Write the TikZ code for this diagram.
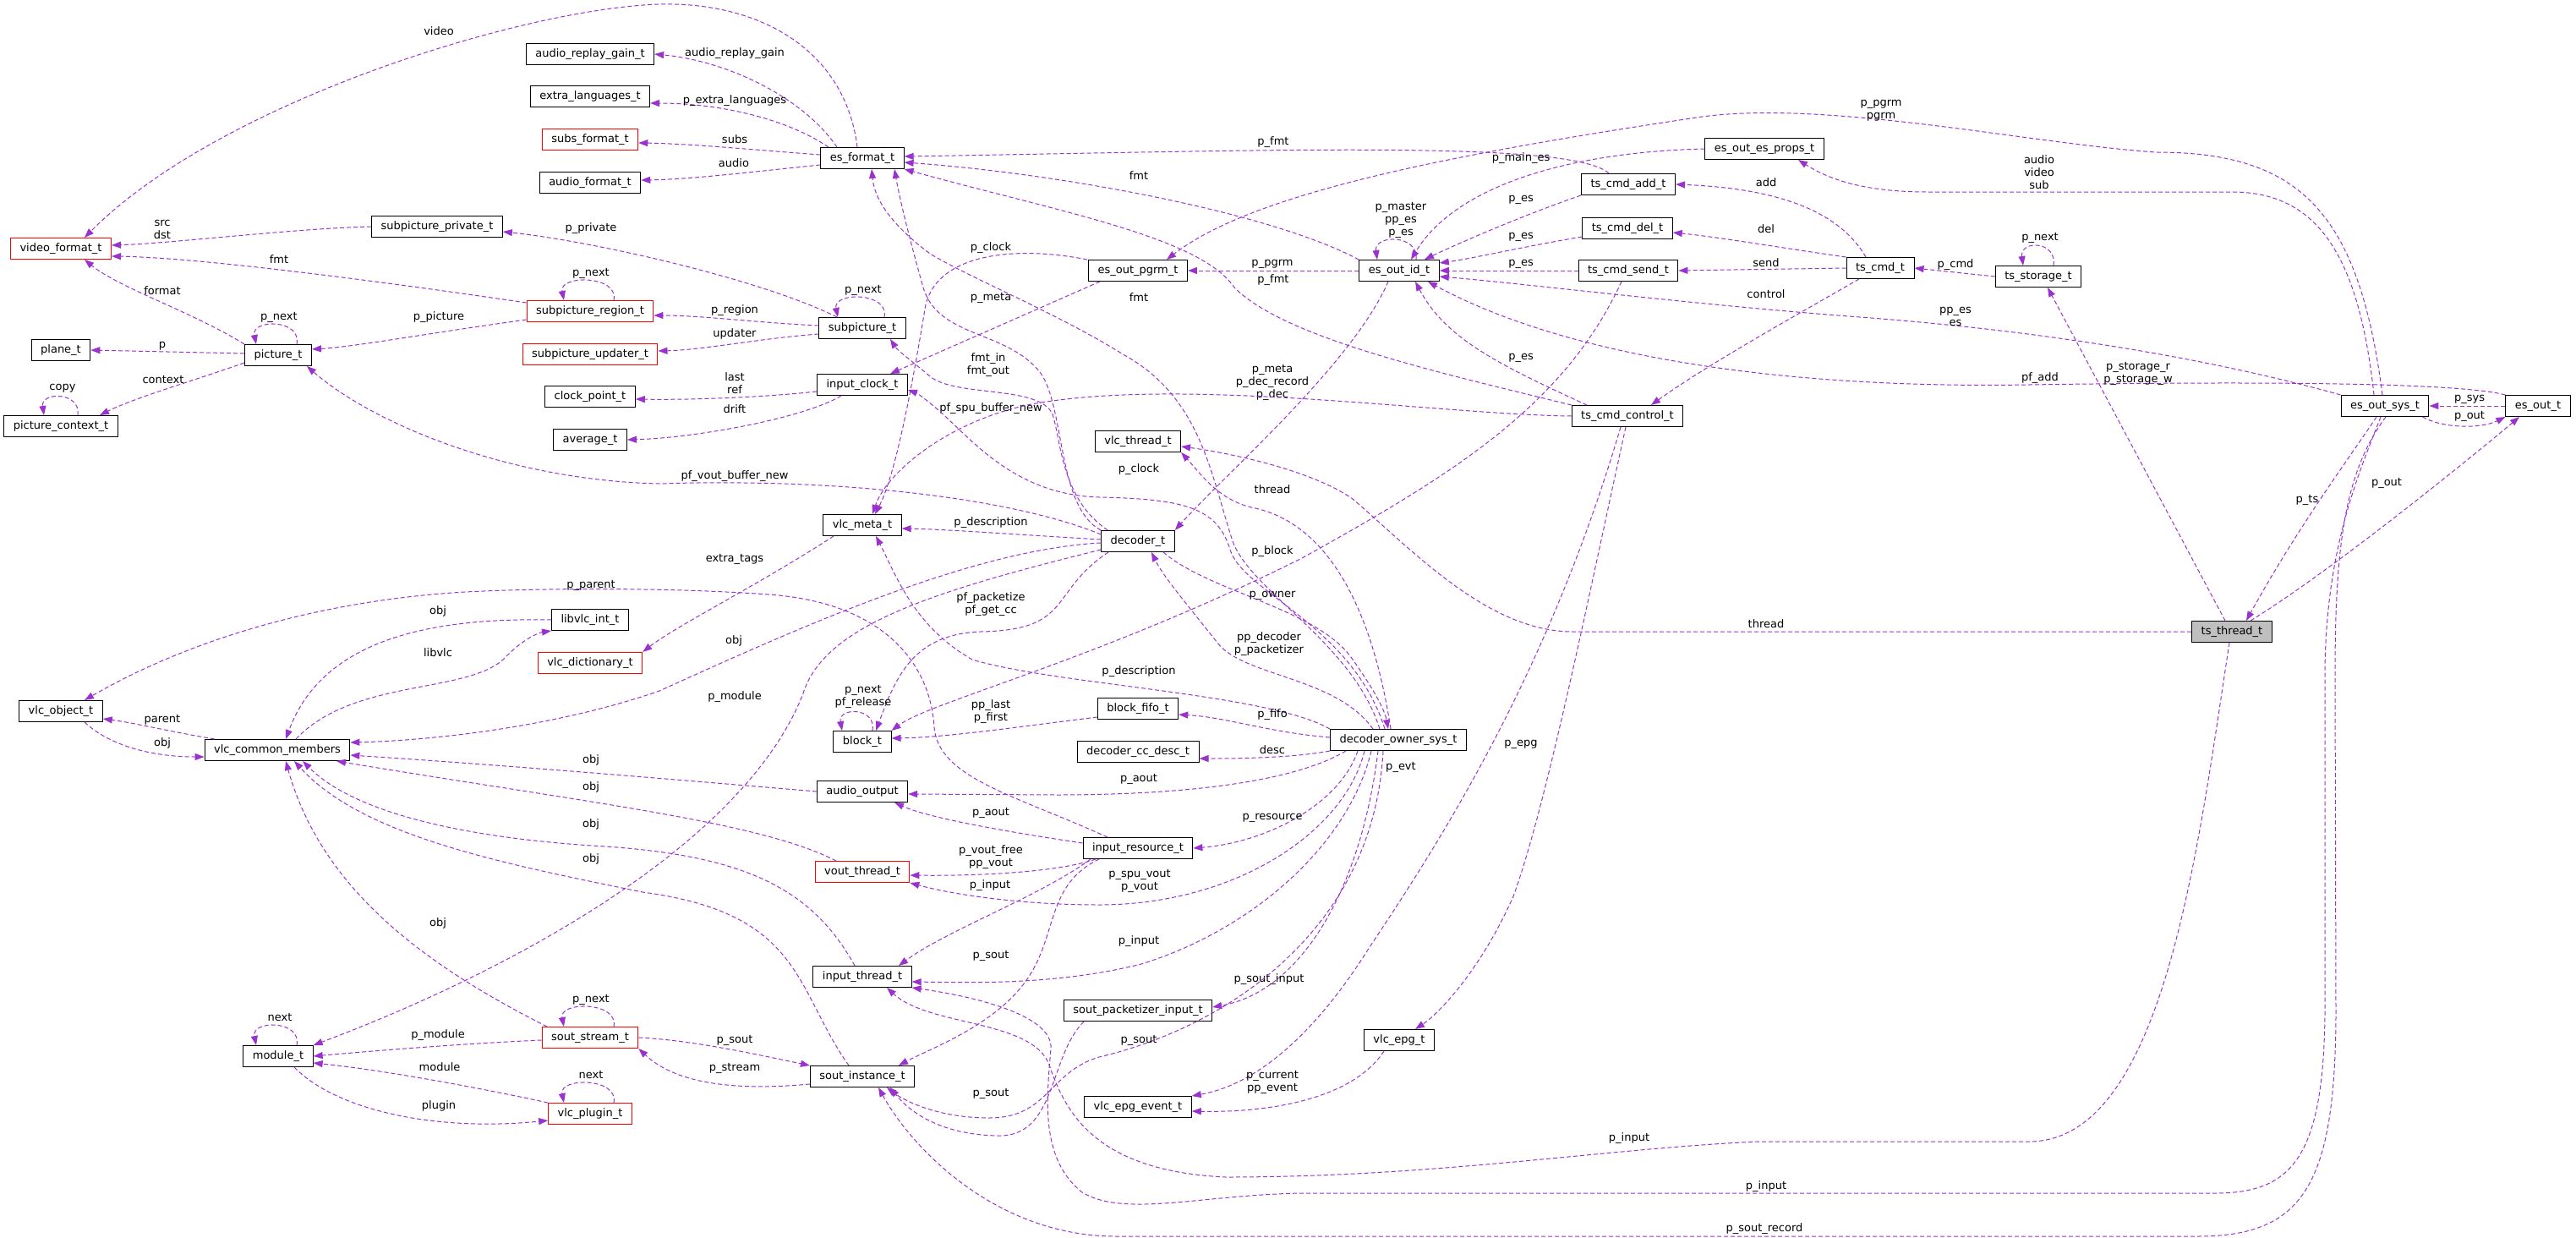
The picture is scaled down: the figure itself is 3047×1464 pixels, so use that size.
\documentclass[tikz,border=0pt]{standalone}
\usepackage{fontspec}
\setmainfont{DejaVu Sans}
\usepackage{tikz}
\usetikzlibrary{arrows.meta}
\definecolor{edgepurple}{HTML}{9A32CD}

\begin{document}
\begin{tikzpicture}[
  x=1pt, y=-1pt,
  cls/.style={draw=black, fill=white, line width=1pt, minimum height=25pt, inner xsep=11pt, inner ysep=2pt, font=\fontsize{13}{15}\selectfont},
  clsred/.style={cls, draw=red},
  rootcls/.style={cls, fill=gray!50},
  member/.style={draw=edgepurple, line width=1pt, dash pattern=on 5pt off 3pt, -{Triangle[length=11pt, width=8pt]}},
  field/.style={font=\fontsize{13}{15}\selectfont, align=center, inner sep=0pt},
]
  \useasboundingbox (0,0) rectangle (3047,1464);
  \fill[white] (0,0) rectangle (3047,1464);

  % Structures
  \node[clsred] (vfmt) at (72,294) {video\_format\_t};
  \node[cls] (plane) at (72,414) {plane\_t};
  \node[cls] (picctx) at (72,504) {picture\_context\_t};
  \node[cls] (vlcobj) at (72,841) {vlc\_object\_t};
  \node[cls] (pic) at (329,420) {picture\_t};
  \node[cls] (common) at (328,887) {vlc\_common\_members};
  \node[cls] (module) at (329,1249) {module\_t};
  \node[cls] (sppriv) at (517,268) {subpicture\_private\_t};
  \node[cls] (argain) at (698,64) {audio\_replay\_gain\_t};
  \node[cls] (xlang) at (698,114) {extra\_languages\_t};
  \node[clsred] (subsfmt) at (698,165) {subs\_format\_t};
  \node[cls] (afmt) at (698,216) {audio\_format\_t};
  \node[clsred] (spregion) at (698,368) {subpicture\_region\_t};
  \node[clsred] (spupd) at (698,419) {subpicture\_updater\_t};
  \node[cls] (clkpt) at (698,469) {clock\_point\_t};
  \node[cls] (avg) at (698,520) {average\_t};
  \node[cls] (libvlc) at (698,733) {libvlc\_int\_t};
  \node[clsred] (dict) at (698,784) {vlc\_dictionary\_t};
  \node[clsred] (stream) at (698,1227) {sout\_stream\_t};
  \node[clsred] (plugin) at (698,1317) {vlc\_plugin\_t};
  \node[cls] (esfmt) at (1020,187) {es\_format\_t};
  \node[cls] (subpic) at (1020,388) {subpicture\_t};
  \node[cls] (iclock) at (1020,455) {input\_clock\_t};
  \node[cls] (meta) at (1020,621) {vlc\_meta\_t};
  \node[cls] (block) at (1020,877) {block\_t};
  \node[cls] (aout) at (1020,936) {audio\_output};
  \node[clsred] (vout) at (1020,1031) {vout\_thread\_t};
  \node[cls] (input) at (1020,1155) {input\_thread\_t};
  \node[cls] (sout) at (1020,1273) {sout\_instance\_t};
  \node[cls] (pgrm) at (1346,320) {es\_out\_pgrm\_t};
  \node[cls] (thr) at (1346,522) {vlc\_thread\_t};
  \node[cls] (dec) at (1346,640) {decoder\_t};
  \node[cls] (fifo) at (1346,838) {block\_fifo\_t};
  \node[cls] (ccdesc) at (1346,889) {decoder\_cc\_desc\_t};
  \node[cls] (resource) at (1346,1003) {input\_resource\_t};
  \node[cls] (packin) at (1346,1195) {sout\_packetizer\_input\_t};
  \node[cls] (epgevt) at (1346,1309) {vlc\_epg\_event\_t};
  \node[cls] (esid) at (1655,320) {es\_out\_id\_t};
  \node[cls] (owner) at (1654,875) {decoder\_owner\_sys\_t};
  \node[cls] (epg) at (1655,1230) {vlc\_epg\_t};
  \node[cls] (cmdadd) at (1926,218) {ts\_cmd\_add\_t};
  \node[cls] (cmddel) at (1925,270) {ts\_cmd\_del\_t};
  \node[cls] (cmdsend) at (1926,320) {ts\_cmd\_send\_t};
  \node[cls] (cmdctl) at (1925,492) {ts\_cmd\_control\_t};
  \node[cls] (esprops) at (2087,176) {es\_out\_es\_props\_t};
  \node[cls] (cmd) at (2224,317) {ts\_cmd\_t};
  \node[cls] (storage) at (2411,327) {ts\_storage\_t};
  \node[rootcls] (tsthread) at (2640,747) {ts\_thread\_t};
  \node[cls] (essys) at (2821,480) {es\_out\_sys\_t};
  \node[cls] (esout) at (3002,480) {es\_out\_t};

  % es_format_t
  \draw[member] ([xshift=-6pt]esfmt.north) .. controls (1000,60) and (900,2) .. (780,5) .. controls (620,10) and (260,120) .. ([xshift=28pt]vfmt.north) node[field, at={(519,37)}] {video};
  \draw[member] ([xshift=-30pt]esfmt.north) .. controls (950,115) and (860,72) .. (argain.east) node[field, at={(869,63)}] {audio\_replay\_gain};
  \draw[member] ([xshift=-40pt]esfmt.north) .. controls (930,140) and (850,122) .. ([yshift=-8pt]xlang.east) node[field, at={(869,119)}] {p\_extra\_languages};
  \draw[member] ([yshift=4pt]esfmt.west) .. controls (900,178) and (820,170) .. ([yshift=-4pt]subsfmt.east) node[field, at={(869,165)}] {subs};
  \draw[member] ([yshift=-8pt]esfmt.west) .. controls (900,202) and (820,212) .. ([yshift=3pt]afmt.east) node[field, at={(868,193)}] {audio};

  % video_format_t and picture_t
  \draw[member] (sppriv.west) .. controls (350,270) and (200,288) .. ([yshift=4pt]vfmt.east) node[field, at={(192,271)}] {src\\dst};
  \draw[member] ([yshift=10pt]spregion.west) .. controls (500,340) and (250,305) .. ([yshift=-9pt]vfmt.east) node[field, at={(330,307)}] {fmt};
  \draw[member] (pic.north west) .. controls (230,370) and (140,340) .. ([xshift=28pt]vfmt.south) node[field, at={(192,344)}] {format};
  \draw[member] ([xshift=22pt]pic.north) .. controls +(6,-30) and +(-6,-30) .. ([xshift=-26pt]pic.north) node[field, at={(330,375)}] {p\_next};
  \draw[member] ([yshift=2pt]pic.west) -- (plane.east) node[field, at={(192,409)}] {p};
  \draw[member] ([yshift=-9pt]pic.west) .. controls (230,450) and (160,470) .. ([xshift=46pt]picctx.north) node[field, at={(193,449)}] {context};
  \draw[member] ([xshift=20pt]picctx.north) .. controls +(4,-28) and +(-4,-28) .. ([xshift=-20pt]picctx.north) node[field, at={(74,459)}] {copy};
  \draw[member] ([yshift=-10pt]spregion.west) .. controls (500,395) and (420,410) .. ([yshift=7pt]pic.east) node[field, at={(519,375)}] {p\_picture};
  \draw[member] ([xshift=28pt]spregion.north) .. controls +(6,-30) and +(-6,-30) .. ([xshift=-31pt]spregion.north) node[field, at={(699,323)}] {p\_next};

  % subpicture_t and input_clock_t
  \draw[member] ([xshift=-30pt]subpic.north) .. controls (900,330) and (700,285) .. ([yshift=-6pt]sppriv.east) node[field, at={(699,270)}] {p\_private};
  \draw[member] ([yshift=3pt]subpic.west) .. controls (900,382) and (830,373) .. ([yshift=-5pt]spregion.east) node[field, at={(869,367)}] {p\_region};
  \draw[member] ([yshift=-7pt]subpic.west) .. controls (900,400) and (830,414) .. ([yshift=4pt]spupd.east) node[field, at={(869,395)}] {updater};
  \draw[member] ([xshift=26pt]subpic.north) .. controls +(6,-30) and +(-6,-30) .. ([xshift=-29pt]subpic.north) node[field, at={(1021,343)}] {p\_next};
  \draw[member] ([yshift=-8pt]iclock.west) .. controls (900,470) and (820,473) .. ([yshift=-3pt]clkpt.east) node[field, at={(869,453)}] {last\\ref};
  \draw[member] ([xshift=-25pt]iclock.south) .. controls (950,495) and (820,518) .. (avg.east) node[field, at={(869,484)}] {drift};

  % es_out_pgrm_t
  \draw[member] ([xshift=-45pt]pgrm.south) -- ([xshift=33pt]iclock.north) node[field, at={(1172,352)}] {p\_meta};
  \draw[member] ([xshift=-60pt]pgrm.north) .. controls (1200,290) and (1110,300) .. (1095,360) .. controls (1080,450) and (1060,560) .. ([xshift=15pt]meta.north) node[field, at={(1172,293)}] {p\_clock};

  % decoder_t
  \draw[member] (dec.north west) .. controls (1250,600) and (1260,480) .. (1230,440) .. controls (1190,390) and (1110,400) .. (1092,340) .. controls (1078,290) and (1065,240) .. ([xshift=38pt]esfmt.south) node[field, at={(1169,432)}] {fmt\_in\\fmt\_out};
  \draw[member] ([xshift=8pt]dec.north west) .. controls (1255,590) and (1255,520) .. (1245,490) .. controls (1230,455) and (1130,470) .. (1100,445) .. controls (1080,428) and (1062,415) .. ([xshift=33pt]subpic.south) node[field, at={(1172,483)}] {pf\_spu\_buffer\_new};
  \draw[member] ([yshift=8pt]dec.west) .. controls (1200,590) and (1000,565) .. (780,572) .. controls (600,568) and (440,500) .. ([xshift=34pt]pic.south) node[field, at={(869,563)}] {pf\_vout\_buffer\_new};
  \draw[member] ([yshift=2pt]dec.west) .. controls (1200,632) and (1120,626) .. ([yshift=-4pt]meta.east) node[field, at={(1172,618)}] {p\_description};
  \draw[member] ([yshift=-2pt]dec.west) .. controls (1150,650) and (950,740) .. (780,817) .. controls (650,862) and (500,876) .. ([yshift=9pt]common.east) node[field, at={(868,758)}] {obj};
  \draw[member] ([yshift=-10pt]dec.west) .. controls (1100,700) and (975,740) .. (950,820) .. controls (880,1000) and (600,1150) .. (module.north east) node[field, at={(869,824)}] {p\_module};
  \draw[member] ([xshift=-35pt]dec.south) .. controls (1240,700) and (1270,745) .. (1160,747) .. controls (1080,750) and (1060,800) .. ([xshift=16pt]block.north) node[field, at={(1172,715)}] {pf\_packetize\\pf\_get\_cc};
  \draw[member] ([xshift=30pt]dec.south) .. controls (1430,700) and (1560,720) .. (1600,780) .. controls (1625,815) and (1638,840) .. ([xshift=-12pt]owner.north) node[field, at={(1505,704)}] {p\_owner};
  \draw[member] ([xshift=-30pt]owner.north) .. controls (1580,800) and (1470,800) .. (1440,760) .. controls (1400,710) and (1375,680) .. ([xshift=16pt]dec.south) node[field, at={(1501,762)}] {pp\_decoder\\p\_packetizer};
  \draw[member] ([xshift=-13pt]esid.south) .. controls (1600,430) and (1450,560) .. (dec.north east) node[field, at={(1505,452)}] {p\_meta\\p\_dec\_record\\p\_dec};

  % vlc_meta_t and block_t
  \draw[member] ([xshift=-34pt]meta.south) .. controls (900,690) and (800,740) .. (dict.north east) node[field, at={(869,661)}] {extra\_tags};
  \draw[member] (owner.north west) .. controls (1500,820) and (1250,810) .. (1150,780) .. controls (1080,740) and (1060,680) .. ([xshift=16pt]meta.south) node[field, at={(1347,794)}] {p\_description};
  \draw[member] (cmdctl.west) .. controls (1700,490) and (1400,445) .. (1220,478) .. controls (1120,498) and (1048,560) .. ([xshift=12pt]meta.north);
  \draw[member] ([xshift=12pt]block.north) .. controls +(5,-28) and +(-5,-28) .. ([xshift=-24pt]block.north) node[field, at={(1021,824)}] {p\_next\\pf\_release};
  \draw[member] ([yshift=-10pt]fifo.west) .. controls (1200,860) and (1120,872) .. ([yshift=4pt]block.east) node[field, at={(1172,842)}] {pp\_last\\p\_first};
  \draw[member] ([xshift=-8pt]cmdsend.south) .. controls (1850,480) and (1720,560) .. (1540,660) .. controls (1300,780) and (1100,830) .. (block.north east) node[field, at={(1505,652)}] {p\_block};

  % decoder_owner_sys_t
  \draw[member] ([xshift=-9pt]owner.north) .. controls (1620,700) and (1560,615) .. (1480,600) .. controls (1440,590) and (1420,560) .. (thr.south east) node[field, at={(1505,579)}] {thread};
  \draw[member] ([xshift=-16pt]owner.north) .. controls (1600,740) and (1470,700) .. (1455,650) .. controls (1440,600) and (1400,590) .. (1300,588) .. controls (1200,585) and (1150,520) .. (1110,485) .. controls (1095,472) and (1085,465) .. ([yshift=-6pt]iclock.east) node[field, at={(1347,555)}] {p\_clock};
  \draw[member] ([xshift=-22pt]owner.north) .. controls (1600,760) and (1480,700) .. (1458,640) .. controls (1432,560) and (1420,470) .. (1330,420) .. controls (1250,370) and (1150,330) .. (1100,300) .. controls (1060,270) and (1035,240) .. ([xshift=11pt]esfmt.south) node[field, at={(1347,352)}] {fmt};
  \draw[member] ([yshift=3pt]owner.west) .. controls (1500,866) and (1450,848) .. ([yshift=-7pt]fifo.east) node[field, at={(1505,845)}] {p\_fifo};
  \draw[member] (owner.south west) .. controls (1530,896) and (1470,897) .. ([yshift=-8pt]ccdesc.east) node[field, at={(1505,887)}] {desc};
  \draw[member] ([xshift=-62pt]owner.south) .. controls (1530,925) and (1400,940) .. (1250,940) -- ([yshift=-3pt]aout.east) node[field, at={(1347,921)}] {p\_aout};
  \draw[member] ([xshift=-48pt]owner.south) .. controls (1585,950) and (1500,996) .. (resource.east) node[field, at={(1505,967)}] {p\_resource};
  \draw[member] ([xshift=-40pt]owner.south) .. controls (1590,985) and (1460,1070) .. (1300,1070) .. controls (1200,1070) and (1120,1056) .. (vout.south east) node[field, at={(1348,1042)}] {p\_spu\_vout\\p\_vout};
  \draw[member] ([xshift=-32pt]owner.south) .. controls (1595,1000) and (1480,1100) .. (1350,1140) .. controls (1250,1165) and (1150,1162) .. ([yshift=-6pt]input.east) node[field, at={(1347,1113)}] {p\_input};
  \draw[member] ([xshift=-24pt]owner.south) .. controls (1610,1050) and (1540,1172) .. ([yshift=4pt]packin.east) node[field, at={(1501,1158)}] {p\_sout\_input};
  \draw[member] ([xshift=-18pt]owner.south) .. controls (1625,1100) and (1450,1215) .. (1300,1250) .. controls (1240,1268) and (1240,1322) .. (1170,1322) .. controls (1110,1322) and (1070,1302) .. ([xshift=29pt]sout.south) node[field, at={(1347,1230)}] {p\_sout};
  \draw[member] ([xshift=-64pt]packin.south) .. controls (1240,1250) and (1250,1345) .. (1180,1343) .. controls (1120,1342) and (1080,1320) .. ([xshift=33pt]sout.south) node[field, at={(1172,1293)}] {p\_sout};

  % input_resource_t
  \draw[member] ([yshift=6pt]resource.west) .. controls (1200,985) and (1100,968) .. ([xshift=38pt]aout.south) node[field, at={(1172,961)}] {p\_aout};
  \draw[member] ([xshift=-36pt]resource.north) .. controls (1200,940) and (1110,920) .. (1105,860) .. controls (1100,780) and (1040,712) .. (909,703) .. controls (800,695) and (650,695) .. (550,700) .. controls (350,712) and (200,770) .. ([xshift=28pt]vlcobj.north) node[field, at={(699,692)}] {p\_parent};
  \draw[member] ([xshift=-50pt]resource.south) .. controls (1250,1032) and (1150,1036) .. ([yshift=-4pt]vout.east) node[field, at={(1172,1014)}] {p\_vout\_free\\pp\_vout};
  \draw[member] ([xshift=-56pt]resource.south) .. controls (1230,1060) and (1120,1100) .. ([xshift=43pt]input.north) node[field, at={(1171,1047)}] {p\_input};
  \draw[member] ([xshift=-46pt]resource.south) .. controls (1240,1045) and (1250,1100) .. (1220,1150) .. controls (1185,1210) and (1100,1240) .. ([xshift=43pt]sout.north) node[field, at={(1172,1130)}] {p\_sout};

  % vlc_common_members and vlc_object_t
  \draw[member] (aout.west) .. controls (800,922) and (600,905) .. ([yshift=-6pt]common.east) node[field, at={(699,899)}] {obj};
  \draw[member] ([xshift=-31pt]vout.north) .. controls (900,972) and (700,950) .. ([xshift=70pt]common.south) node[field, at={(699,931)}] {obj};
  \draw[member] ([xshift=-9pt]input.north) .. controls (960,1050) and (880,1010) .. (700,1000) .. controls (550,990) and (420,962) .. ([xshift=30pt]common.south) node[field, at={(699,975)}] {obj};
  \draw[member] ([xshift=-16pt]sout.north) .. controls (940,1170) and (950,1080) .. (760,1055) .. controls (600,1022) and (430,990) .. ([xshift=20pt]common.south) node[field, at={(699,1016)}] {obj};
  \draw[member] ([xshift=-51pt]stream.north) .. controls (500,1140) and (380,1050) .. ([xshift=10pt]common.south) node[field, at={(518,1092)}] {obj};
  \draw[member] (libvlc.west) .. controls (500,730) and (380,760) .. ([xshift=10pt]common.north) node[field, at={(518,723)}] {obj};
  \draw[member] ([xshift=22pt]common.north) .. controls (420,800) and (560,822) .. (600,775) .. controls (620,755) and (638,748) .. (libvlc.south west) node[field, at={(518,772)}] {libvlc};
  \draw[member] ([xshift=-74pt]common.north) .. controls (200,865) and (160,855) .. ([yshift=-9pt]vlcobj.east) node[field, at={(192,851)}] {parent};
  \draw[member] ([xshift=28pt]vlcobj.south) .. controls (130,882) and (180,895) .. ([yshift=-8pt]common.west) node[field, at={(192,879)}] {obj};

  % sout_stream_t, module_t, vlc_plugin_t
  \draw[member] ([yshift=-9pt]sout.west) .. controls (870,1290) and (800,1282) .. (stream.south east) node[field, at={(869,1263)}] {p\_stream};
  \draw[member] (stream.east) .. controls (820,1230) and (900,1248) .. (sout.north west) node[field, at={(869,1230)}] {p\_sout};
  \draw[member] ([xshift=28pt]stream.north) .. controls +(6,-30) and +(-6,-30) .. ([xshift=-31pt]stream.north) node[field, at={(699,1182)}] {p\_next};
  \draw[member] ([yshift=-3pt]stream.west) .. controls (550,1234) and (450,1242) .. (module.east) node[field, at={(518,1224)}] {p\_module};
  \draw[member] (plugin.north west) .. controls (560,1285) and (450,1265) .. ([yshift=-8pt]module.east) node[field, at={(520,1262)}] {module};
  \draw[member] ([xshift=19pt]module.south) .. controls (400,1315) and (520,1338) .. ([yshift=-8pt]plugin.west) node[field, at={(519,1308)}] {plugin};
  \draw[member] ([xshift=22pt]module.north) .. controls +(6,-30) and +(-6,-30) .. ([xshift=-26pt]module.north) node[field, at={(331,1203)}] {next};
  \draw[member] ([xshift=28pt]plugin.north) .. controls +(6,-30) and +(-6,-30) .. ([xshift=-31pt]plugin.north) node[field, at={(699,1271)}] {next};

  % vlc_epg_t
  \draw[member] ([xshift=-2pt]cmdctl.south) .. controls (1880,700) and (1830,950) .. (1790,1060) .. controls (1750,1150) and (1700,1200) .. ([xshift=19pt]epg.north) node[field, at={(1799,880)}] {p\_epg};
  \draw[member] ([xshift=-8pt]cmdctl.south) .. controls (1830,800) and (1700,1000) .. (1620,1120) .. controls (1570,1200) and (1500,1280) .. (epgevt.north east) node[field, at={(1657,907)}] {p\_evt};
  \draw[member] ([xshift=-18pt]epg.south) .. controls (1600,1300) and (1500,1316) .. ([yshift=-5pt]epgevt.east) node[field, at={(1505,1280)}] {p\_current\\pp\_event};

  % es_out_id_t and ts_cmd_t
  \draw[member] (esid.west) -- (pgrm.east) node[field, at={(1505,312)}] {p\_pgrm};
  \draw[member] (esid.north west) .. controls (1500,250) and (1250,205) .. ([yshift=-5pt]esfmt.east) node[field, at={(1347,208)}] {fmt};
  \draw[member] ([xshift=-23pt]cmdadd.north) .. controls (1860,165) and (1500,178) .. ([yshift=2pt]esfmt.east) node[field, at={(1506,168)}] {p\_fmt};
  \draw[member] (cmdctl.north west) .. controls (1700,440) and (1520,400) .. (1460,340) .. controls (1420,280) and (1250,250) .. (esfmt.south east) node[field, at={(1506,331)}] {p\_fmt};
  \draw[member] (esprops.west) .. controls (1850,180) and (1720,222) .. ([xshift=14pt]esid.north) node[field, at={(1799,187)}] {p\_main\_es};
  \draw[member] ([xshift=20pt]esid.north) .. controls +(4,-30) and +(-4,-30) .. ([xshift=-26pt]esid.north) node[field, at={(1657,260)}] {p\_master\\pp\_es\\p\_es};
  \draw[member] (cmdadd.south west) .. controls (1800,255) and (1720,290) .. ([xshift=30pt]esid.north) node[field, at={(1799,236)}] {p\_es};
  \draw[member] ([yshift=-10pt]cmddel.west) .. controls (1800,292) and (1740,306) .. ([yshift=9pt]esid.east) node[field, at={(1799,280)}] {p\_es};
  \draw[member] (cmdsend.west) -- (esid.east) node[field, at={(1799,312)}] {p\_es};
  \draw[member] ([xshift=-48pt]cmdctl.north) .. controls (1770,430) and (1710,400) .. ([xshift=19pt]esid.south) node[field, at={(1799,423)}] {p\_es};
  \draw[member] ([xshift=-17pt]cmd.north) .. controls (2170,240) and (2080,222) .. (cmdadd.east) node[field, at={(2089,216)}] {add};
  \draw[member] (cmd.north west) .. controls (2100,292) and (2030,280) .. ([yshift=-5pt]cmddel.east) node[field, at={(2089,271)}] {del};
  \draw[member] (cmd.west) -- (cmdsend.east) node[field, at={(2089,311)}] {send};
  \draw[member] ([xshift=-25pt]cmd.south) .. controls (2117,377) and (2017,433) .. ([xshift=28pt]cmdctl.north) node[field, at={(2089,348)}] {control};
  \draw[member] (storage.west) -- (cmd.east) node[field, at={(2313,313)}] {p\_cmd};
  \draw[member] ([xshift=18pt]storage.north) .. controls +(4,-30) and +(-4,-30) .. ([xshift=-18pt]storage.north) node[field, at={(2413,281)}] {p\_next};

  % es_out_sys_t, es_out_t, ts_thread_t
  \draw[member] ([xshift=-3pt]essys.north) .. controls (2790,250) and (2720,180) .. (2550,180) .. controls (2400,170) and (2150,115) .. (2000,140) .. controls (1700,185) and (1480,230) .. ([xshift=34pt]pgrm.north) node[field, at={(2225,131)}] {p\_pgrm\\pgrm};
  \draw[member] ([xshift=-13pt]essys.north) .. controls (2790,300) and (2740,227) .. (2640,227) -- (2280,227) .. controls (2200,227) and (2160,210) .. ([xshift=40pt]esprops.south) node[field, at={(2412,204)}] {audio\\video\\sub};
  \draw[member] (essys.north west) .. controls (2600,420) and (2400,390) .. (2200,375) .. controls (2000,360) and (1800,335) .. ([yshift=-7pt]esid.east) node[field, at={(2313,374)}] {pp\_es\\es};
  \draw[member] (esout.north west) .. controls (2900,450) and (2600,452) .. (2400,455) .. controls (2100,460) and (1850,420) .. ([xshift=34pt]esid.south) node[field, at={(2413,447)}] {pf\_add};
  \draw[member] ([xshift=-8pt]tsthread.north) -- ([xshift=11pt]storage.south) node[field, at={(2529,442)}] {p\_storage\_r\\p\_storage\_w};
  \draw[member] ([xshift=-10pt]essys.south) .. controls (2780,540) and (2720,620) .. ([xshift=17pt]tsthread.north) node[field, at={(2729,591)}] {p\_ts};
  \draw[member] ([xshift=22pt]tsthread.north) .. controls (2750,680) and (2900,560) .. ([xshift=-22pt]esout.south) node[field, at={(2823,571)}] {p\_out};
  \draw[member] (esout.west) -- (essys.east) node[field, at={(2921,472)}] {p\_sys};
  \draw[member] ([xshift=-8pt]essys.south east) .. controls (2890,507) and (2935,507) .. (esout.south west) node[field, at={(2921,492)}] {p\_out};
  \draw[member] (tsthread.west) -- (1860,747) .. controls (1760,747) and (1670,650) .. (1600,590) .. controls (1550,555) and (1450,535) .. ([yshift=-6pt]thr.east) node[field, at={(2089,738)}] {thread};
  \draw[member] ([xshift=-3pt]tsthread.south) .. controls (2600,1000) and (2560,1350) .. (2400,1350) -- (2080,1350) .. controls (1900,1358) and (1700,1392) .. (1450,1392) .. controls (1300,1385) and (1262,1320) .. (1242,1262) .. controls (1225,1205) and (1100,1215) .. ([xshift=29pt]input.south) node[field, at={(1927,1346)}] {p\_input};
  \draw[member] ([xshift=-5pt]essys.south) .. controls (2790,560) and (2750,650) .. (2750,800) -- (2750,1200) .. controls (2748,1370) and (2710,1411) .. (2620,1411) -- (1540,1411) .. controls (1420,1413) and (1330,1440) .. (1280,1410) .. controls (1230,1370) and (1238,1300) .. (1243,1240) .. controls (1246,1200) and (1150,1178) .. (input.south east) node[field, at={(2089,1403)}] {p\_input};
  \draw[member] ([xshift=1pt]essys.south) .. controls (2772,560) and (2762,650) .. (2762,800) -- (2763,1200) .. controls (2762,1400) and (2725,1462) .. (2600,1462) -- (1320,1462) .. controls (1180,1462) and (1080,1360) .. ([xshift=19pt]sout.south) node[field, at={(2087,1453)}] {p\_sout\_record};
\end{tikzpicture}
\end{document}
